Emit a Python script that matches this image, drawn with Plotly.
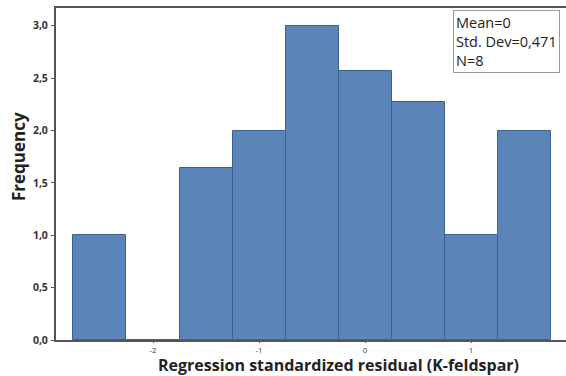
import plotly.graph_objects as go

# Histogram bins (centers) and their frequencies
bin_centers = [-2.5, -2.0, -1.5, -1.0, -0.5, 0.0, 0.5, 1.0, 1.5]
frequencies = [1.0, 0.0, 1.64, 2.0, 3.0, 2.57, 2.27, 1.0, 2.0]
bin_width = 0.5

x_ticks = [-2, -1, 0, 1]
y_ticks = [0.0, 0.5, 1.0, 1.5, 2.0, 2.5, 3.0]

stats_lines = ["Mean=0", "Std. Dev=0,471", "N=8"]

fig = go.Figure()
fig.add_trace(go.Bar(
    x=bin_centers,
    y=frequencies,
    width=bin_width,
    marker=dict(color="#5b84b9", line=dict(color="#3c628f", width=1)),
    hoverinfo="x+y",
))

fig.update_layout(
    width=566, height=376,
    margin=dict(l=56, r=0, t=8, b=36),
    paper_bgcolor="white",
    plot_bgcolor="white",
    separators=", ",
    showlegend=False,
    font=dict(family="Open Sans, sans-serif", color="#333333"),
    bargap=0,
)

fig.update_xaxes(
    range=[-2.915, 1.896],
    tickvals=x_ticks,
    ticktext=[str(v) for v in x_ticks],
    tickfont=dict(size=8, color="#444444"),
    ticks="outside", ticklen=1, tickcolor="#555555",
    ticklabelstandoff=0,
    showgrid=False, zeroline=False,
    showline=True, linecolor="#555555", linewidth=2, mirror=True,
)
fig.update_yaxes(
    range=[0, 3.17],
    tickvals=y_ticks,
    tickformat=".1f",
    tickfont=dict(size=10.5, color="#333333", weight="bold"),
    ticks="outside", ticklen=3, tickcolor="#555555",
    ticklabelstandoff=1,
    showgrid=False, zeroline=False,
    showline=True, linecolor="#555555", linewidth=2,
)

# Axis titles
fig.add_annotation(
    text="<b>Regression standardized residual (K-feldspar)</b>",
    xref="paper", yref="paper", x=0.554, y=-0.0745,
    xanchor="center", yanchor="middle", showarrow=False,
    font=dict(size=16, color="#222222"),
)
fig.add_annotation(
    text="<b>Frequency</b>",
    xref="paper", yref="paper", x=-0.0745, y=0.551,
    xanchor="center", yanchor="middle", textangle=-90, showarrow=False,
    font=dict(size=17, color="#222222"),
)

# Summary statistics box
fig.add_annotation(
    text="<br>".join(stats_lines),
    xref="paper", yref="paper", x=0.778, y=0.994,
    xanchor="left", yanchor="top", align="left", showarrow=False,
    font=dict(size=14.5, color="#222222"),
    bordercolor="#999999", borderwidth=1, borderpad=2,
    bgcolor="white",
)

fig.write_html("out.html")
